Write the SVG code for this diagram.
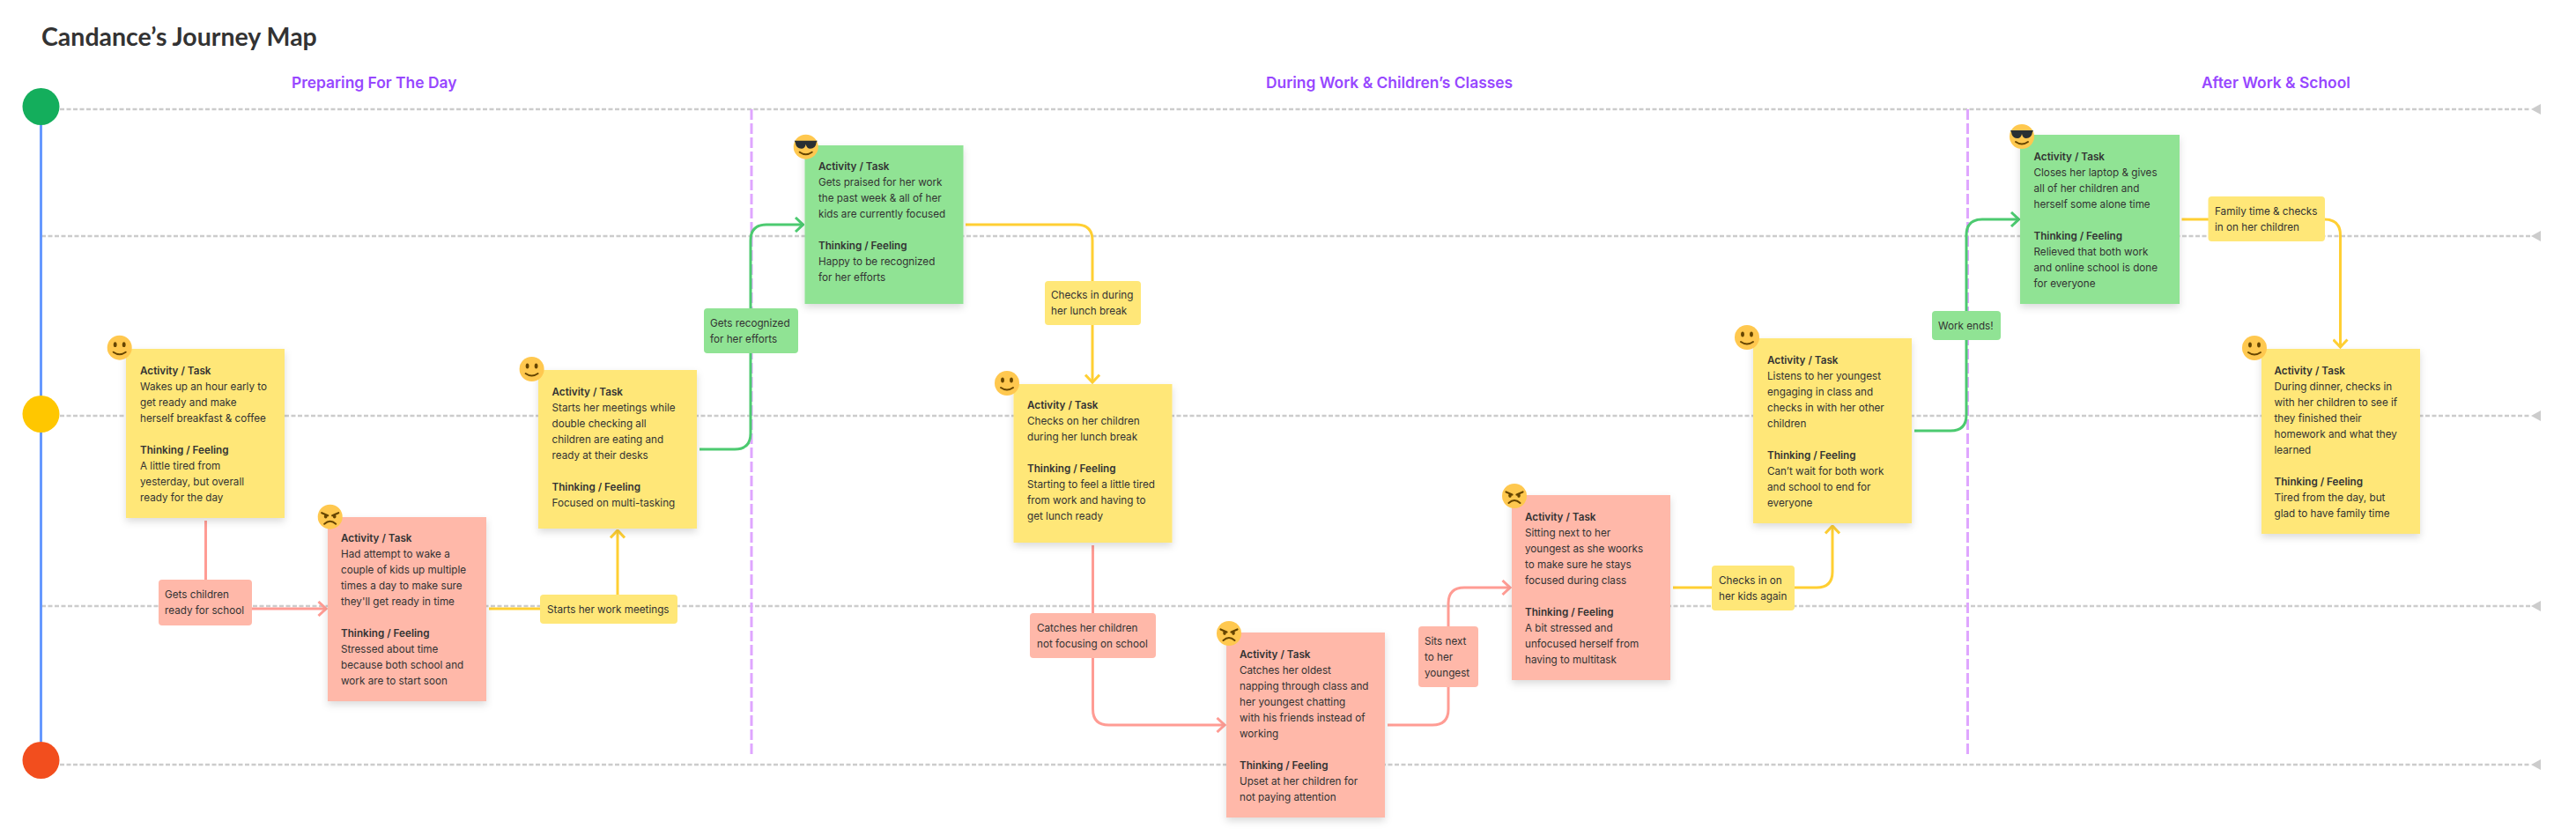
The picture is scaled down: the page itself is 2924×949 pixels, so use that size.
<svg xmlns="http://www.w3.org/2000/svg" xmlns:xlink="http://www.w3.org/1999/xlink" width="2924" height="949" viewBox="0 0 2924 949">
<style>
text{font-family:Inter,"Liberation Sans",sans-serif;fill:#333333;font-size:11.7px}
.title{font-family:Lato,"Liberation Sans",sans-serif;font-size:28.5px;font-weight:700;fill:#333333}
.sec{font-size:17.4px;font-weight:600;fill:#9747ff}
.b{font-weight:600}
.y{fill:#ffe778}.r{fill:#ffb8a9}.g{fill:#90e394}
.card{filter:url(#sh)}
.row{stroke:#cccccc;stroke-width:2.5;stroke-dasharray:5 2.5;fill:none}
.div{stroke:#dfa6ff;stroke-width:3;stroke-dasharray:12 4;fill:none}
.c{fill:none;stroke-width:3;stroke-linejoin:round}
.cr{stroke:#ff9c94;color:#ff9c94}.cy{stroke:#ffcf33;color:#ffcf33}.cg{stroke:#4cca70;color:#4cca70}
</style>
<defs>
<filter id="sh" x="-15%" y="-15%" width="130%" height="130%"><feDropShadow dx="0" dy="4" stdDeviation="4" flood-color="#000000" flood-opacity="0.14"/></filter>
<marker id="arr" viewBox="0 0 12 18" refX="10.5" refY="9" markerWidth="12" markerHeight="18" markerUnits="userSpaceOnUse" orient="auto"><path d="M2 1L10.5 9L2 17" fill="none" stroke="context-stroke" stroke-width="3"/></marker>
<marker id="tri" viewBox="0 0 12 14" refX="0" refY="7" markerWidth="12" markerHeight="14" markerUnits="userSpaceOnUse" orient="auto"><path d="M0 7L11 1V13Z" fill="#cccccc"/></marker>
<g id="smile"><circle r="14" fill="#ffc84f"/><ellipse cx="-5" cy="-3.5" rx="1.9" ry="2.9" fill="#664500"/><ellipse cx="5" cy="-3.5" rx="1.9" ry="2.9" fill="#664500"/><path d="M-7 5Q0 10 7 5" fill="none" stroke="#664500" stroke-width="2" stroke-linecap="round"/></g>
<g id="cool"><circle r="14" fill="#ffc84f"/><path d="M-13 -7H13L12 -5Q11 2 5 2Q1 2 0 -3Q-1 2 -5 2Q-11 2 -12 -5Z" fill="#292f33"/><path d="M-7 6Q0 11 7 6" fill="none" stroke="#664500" stroke-width="2" stroke-linecap="round"/></g>
<g id="angry"><circle r="14" fill="#ffc84f"/><path d="M-9.5 -4.5L-2.5 -1.5M9.5 -4.5L2.5 -1.5" stroke="#664500" stroke-width="2.2" stroke-linecap="round"/><ellipse cx="-5" cy="-0.5" rx="1.8" ry="2.4" fill="#664500"/><ellipse cx="5" cy="-0.5" rx="1.8" ry="2.4" fill="#664500"/><path d="M-6.5 8Q0 2 6.5 8" fill="none" stroke="#664500" stroke-width="2" stroke-linecap="round"/></g>
</defs>
<rect width="2924" height="949" fill="#ffffff"/>
<text class="title" x="47" y="52">Candance’s Journey Map</text>
<text class="sec" x="331" y="100">Preparing For The Day</text>
<text class="sec" x="1437" y="100">During Work &amp; Children’s Classes</text>
<text class="sec" x="2499" y="100">After Work &amp; School</text>
<g id="grid">
<path class="row" d="M68 124H2873" marker-end="url(#tri)"/>
<path class="row" d="M47 268H2873" marker-end="url(#tri)"/>
<path class="row" d="M68 472H2873" marker-end="url(#tri)"/>
<path class="row" d="M47 688H2873" marker-end="url(#tri)"/>
<path class="row" d="M68 868H2873" marker-end="url(#tri)"/>
<path class="div" d="M853 124V860"/>
<path class="div" d="M2233.5 124V860"/>
</g>
<g id="timeline">
<path d="M46.5 142V842" stroke="#6699ff" stroke-width="3" fill="none"/>
<circle cx="46.5" cy="121" r="21" fill="#14ae5c"/>
<circle cx="46.5" cy="470" r="21" fill="#ffc700"/>
<circle cx="46.5" cy="863" r="21" fill="#f24e1e"/>
</g>
<g id="connectors">
<path class="c cr" d="M233.5 591V691H370" marker-end="url(#arr)"/>
<path class="c cy" d="M555 691H701V602" marker-end="url(#arr)"/>
<path class="c cg" d="M794 510H834Q852 510 852 492V273Q852 255 870 255H911.5" marker-end="url(#arr)"/>
<path class="c cy" d="M1096 255H1222Q1240 255 1240 273V434" marker-end="url(#arr)"/>
<path class="c cr" d="M1240.5 619V805Q1240.5 823 1258.5 823H1390" marker-end="url(#arr)"/>
<path class="c cr" d="M1575 823H1626Q1644 823 1644 805V685Q1644 667 1662 667H1714" marker-end="url(#arr)"/>
<path class="c cy" d="M1899 667H2062Q2080 667 2080 649V597" marker-end="url(#arr)"/>
<path class="c cg" d="M2173 489H2214Q2232 489 2232 471V267Q2232 249 2250 249H2291.5" marker-end="url(#arr)"/>
<path class="c cy" d="M2476.5 249H2638.5Q2656.5 249 2656.5 267V394" marker-end="url(#arr)"/>
</g>
<g id="card1"><rect class="y card" x="143" y="396" width="180" height="192"/><use href="#smile" x="135.7" y="394.7"/>
<text y="425"><tspan class="b" x="159">Activity / Task</tspan><tspan x="159" dy="18">Wakes up an hour early to</tspan><tspan x="159" dy="18">get ready and make</tspan><tspan x="159" dy="18">herself breakfast &amp; coffee</tspan><tspan class="b" x="159" dy="36">Thinking / Feeling</tspan><tspan x="159" dy="18">A little tired from</tspan><tspan x="159" dy="18">yesterday, but overall</tspan><tspan x="159" dy="18">ready for the day</tspan></text></g>
<g id="card2"><rect class="r card" x="372" y="587" width="180" height="209"/><use href="#angry" x="374.7" y="586.7"/>
<text y="615"><tspan class="b" x="387">Activity / Task</tspan><tspan x="387" dy="18">Had attempt to wake a</tspan><tspan x="387" dy="18">couple of kids up multiple</tspan><tspan x="387" dy="18">times a day to make sure</tspan><tspan x="387" dy="18">they'll get ready in time</tspan><tspan class="b" x="387" dy="36">Thinking / Feeling</tspan><tspan x="387" dy="18">Stressed about time</tspan><tspan x="387" dy="18">because both school and</tspan><tspan x="387" dy="18">work are to start soon</tspan></text></g>
<g id="card3"><rect class="y card" x="611" y="420" width="180" height="180"/><use href="#smile" x="603.6" y="419"/>
<text y="449"><tspan class="b" x="626.5">Activity / Task</tspan><tspan x="626.5" dy="18">Starts her meetings while</tspan><tspan x="626.5" dy="18">double checking all</tspan><tspan x="626.5" dy="18">children are eating and</tspan><tspan x="626.5" dy="18">ready at their desks</tspan><tspan class="b" x="626.5" dy="36">Thinking / Feeling</tspan><tspan x="626.5" dy="18">Focused on multi-tasking</tspan></text></g>
<g id="card4"><rect class="g card" x="913.5" y="165" width="180" height="180"/><use href="#cool" x="914.7" y="166.7"/>
<text y="193"><tspan class="b" x="929">Activity / Task</tspan><tspan x="929" dy="18">Gets praised for her work</tspan><tspan x="929" dy="18">the past week &amp; all of her</tspan><tspan x="929" dy="18">kids are currently focused</tspan><tspan class="b" x="929" dy="36">Thinking / Feeling</tspan><tspan x="929" dy="18">Happy to be recognized</tspan><tspan x="929" dy="18">for her efforts</tspan></text></g>
<g id="card5"><rect class="y card" x="1150.5" y="436" width="180" height="180"/><use href="#smile" x="1143" y="435"/>
<text y="464"><tspan class="b" x="1166">Activity / Task</tspan><tspan x="1166" dy="18">Checks on her children</tspan><tspan x="1166" dy="18">during her lunch break</tspan><tspan class="b" x="1166" dy="36">Thinking / Feeling</tspan><tspan x="1166" dy="18">Starting to feel a little tired</tspan><tspan x="1166" dy="18">from work and having to</tspan><tspan x="1166" dy="18">get lunch ready</tspan></text></g>
<g id="card6"><rect class="r card" x="1392" y="718" width="180" height="210"/><use href="#angry" x="1395" y="719"/>
<text y="747"><tspan class="b" x="1407">Activity / Task</tspan><tspan x="1407" dy="18">Catches her oldest</tspan><tspan x="1407" dy="18">napping through class and</tspan><tspan x="1407" dy="18">her youngest chatting</tspan><tspan x="1407" dy="18">with his friends instead of</tspan><tspan x="1407" dy="18">working</tspan><tspan class="b" x="1407" dy="36">Thinking / Feeling</tspan><tspan x="1407" dy="18">Upset at her children for</tspan><tspan x="1407" dy="18">not paying attention</tspan></text></g>
<g id="card7"><rect class="r card" x="1716" y="562" width="180" height="210"/><use href="#angry" x="1719" y="563"/>
<text y="591"><tspan class="b" x="1731">Activity / Task</tspan><tspan x="1731" dy="18">Sitting next to her</tspan><tspan x="1731" dy="18">youngest as she woorks</tspan><tspan x="1731" dy="18">to make sure he stays</tspan><tspan x="1731" dy="18">focused during class</tspan><tspan class="b" x="1731" dy="36">Thinking / Feeling</tspan><tspan x="1731" dy="18">A bit stressed and</tspan><tspan x="1731" dy="18">unfocused herself from</tspan><tspan x="1731" dy="18">having to multitask</tspan></text></g>
<g id="card8"><rect class="y card" x="1990" y="384" width="180" height="210"/><use href="#smile" x="1983" y="383"/>
<text y="413"><tspan class="b" x="2006">Activity / Task</tspan><tspan x="2006" dy="18">Listens to her youngest</tspan><tspan x="2006" dy="18">engaging in class and</tspan><tspan x="2006" dy="18">checks in with her other</tspan><tspan x="2006" dy="18">children</tspan><tspan class="b" x="2006" dy="36">Thinking / Feeling</tspan><tspan x="2006" dy="18">Can’t wait for both work</tspan><tspan x="2006" dy="18">and school to end for</tspan><tspan x="2006" dy="18">everyone</tspan></text></g>
<g id="card9"><rect class="g card" x="2293" y="153" width="181" height="192"/><use href="#cool" x="2295" y="155"/>
<text y="182"><tspan class="b" x="2308.5">Activity / Task</tspan><tspan x="2308.5" dy="18">Closes her laptop &amp; gives</tspan><tspan x="2308.5" dy="18">all of her children and</tspan><tspan x="2308.5" dy="18">herself some alone time</tspan><tspan class="b" x="2308.5" dy="36">Thinking / Feeling</tspan><tspan x="2308.5" dy="18">Relieved that both work</tspan><tspan x="2308.5" dy="18">and online school is done</tspan><tspan x="2308.5" dy="18">for everyone</tspan></text></g>
<g id="card10"><rect class="y card" x="2567" y="396" width="180" height="210"/><use href="#smile" x="2559" y="395"/>
<text y="425"><tspan class="b" x="2581.5">Activity / Task</tspan><tspan x="2581.5" dy="18">During dinner, checks in</tspan><tspan x="2581.5" dy="18">with her children to see if</tspan><tspan x="2581.5" dy="18">they finished their</tspan><tspan x="2581.5" dy="18">homework and what they</tspan><tspan x="2581.5" dy="18">learned</tspan><tspan class="b" x="2581.5" dy="36">Thinking / Feeling</tspan><tspan x="2581.5" dy="18">Tired from the day, but</tspan><tspan x="2581.5" dy="18">glad to have family time</tspan></text></g>
<g id="label1"><rect class="r" x="180" y="658" width="106" height="52" rx="4"/><text y="679"><tspan x="187">Gets children</tspan><tspan x="187" dy="18">ready for school</tspan></text></g>
<g id="label2"><rect class="y" x="613" y="675" width="156" height="33" rx="4"/><text x="621" y="696">Starts her work meetings</text></g>
<g id="label3"><rect class="g" x="799" y="350" width="107" height="51" rx="4"/><text y="371"><tspan x="806">Gets recognized</tspan><tspan x="806" dy="18">for her efforts</tspan></text></g>
<g id="label4"><rect class="y" x="1186" y="319" width="109" height="50" rx="4"/><text y="339"><tspan x="1193">Checks in during</tspan><tspan x="1193" dy="18">her lunch break</tspan></text></g>
<g id="label5"><rect class="r" x="1169" y="696" width="143" height="51" rx="4"/><text y="717"><tspan x="1177">Catches her children</tspan><tspan x="1177" dy="18">not focusing on school</tspan></text></g>
<g id="label6"><rect class="r" x="1610" y="711" width="68" height="69" rx="4"/><text y="732"><tspan x="1617">Sits next</tspan><tspan x="1617" dy="18">to her</tspan><tspan x="1617" dy="18">youngest</tspan></text></g>
<g id="label7"><rect class="y" x="1943" y="642" width="94" height="51" rx="4"/><text y="663"><tspan x="1951">Checks in on</tspan><tspan x="1951" dy="18">her kids again</tspan></text></g>
<g id="label8"><rect class="g" x="2193" y="353" width="78" height="33" rx="4"/><text x="2200" y="374">Work ends!</text></g>
<g id="label9"><rect class="y" x="2506.5" y="223" width="132.5" height="51" rx="4"/><text y="244"><tspan x="2514">Family time &amp; checks</tspan><tspan x="2514" dy="18">in on her children</tspan></text></g>
</svg>
